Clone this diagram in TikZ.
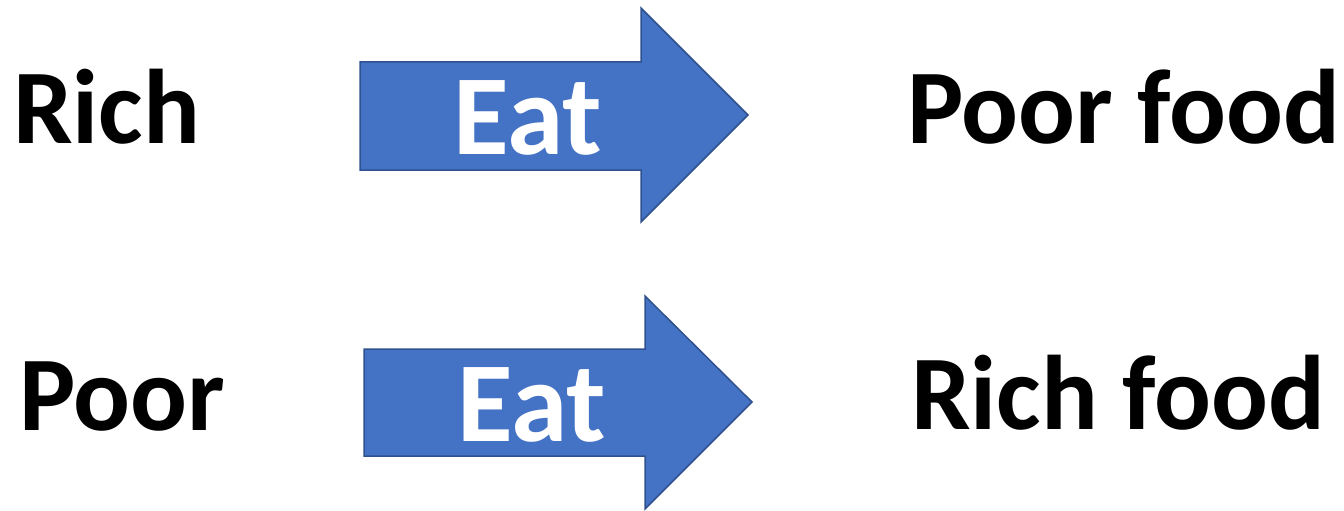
\documentclass[tikz,border=0pt]{standalone}
\usepackage{fontspec}
\setmainfont{Carlito}
\definecolor{arrowfill}{HTML}{4472C4}
\definecolor{arrowline}{HTML}{2F528F}
\begin{document}
\begin{tikzpicture}[x=1pt,y=-1pt,
  bigtext/.style={anchor=base west,inner sep=0pt,font=\bfseries\fontsize{106}{120}\selectfont},
  eattext/.style={anchor=base west,inner sep=0pt,text=white,font=\bfseries\fontsize{114}{130}\selectfont},
  arrowshape/.style={fill=arrowfill,draw=arrowline,line width=1.5pt,line join=miter}]
\useasboundingbox (0,0) rectangle (1344,511);
% arrow 1
\draw[arrowshape] (360,62) -- (641,62) -- (641,8) -- (748,115) -- (641,222) -- (641,170) -- (360,170) -- cycle;
% arrow 2
\draw[arrowshape] (364,349) -- (645,349) -- (645,296) -- (752,402) -- (645,509) -- (645,456) -- (364,456) -- cycle;
\node[bigtext] (rich) at (13,143) {Rich};
\node[bigtext] (poorfood) at (907,143) {Poor food};
\node[bigtext] (poor) at (19,430) {Poor};
\node[bigtext] (richfood) at (911,429) {Rich food};
\node[eattext] (eat1) at (453,154) {Eat};
\node[eattext] (eat2) at (457,441) {Eat};
\end{tikzpicture}
\end{document}
